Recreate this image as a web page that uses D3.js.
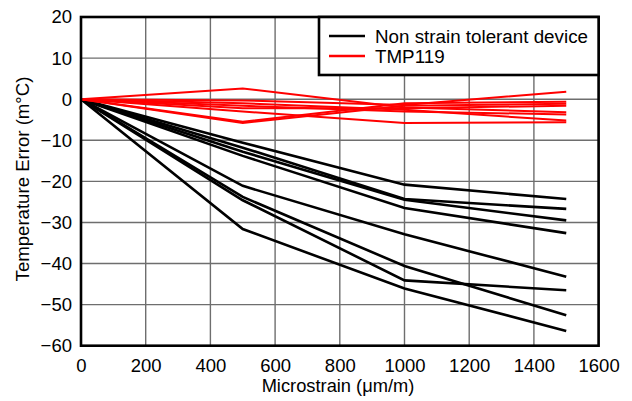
<!DOCTYPE html>
<html>
<head>
<meta charset="utf-8">
<script src="https://cdn.jsdelivr.net/npm/d3@7"></script>
<style>
  body { margin: 0; background: #fff; }
  text { font-family: "Liberation Sans", Arial, sans-serif; fill: #000; }
</style>
</head>
<body>
<svg id="chart" width="632" height="401"></svg>
<script>
// data
var strain = [0, 500, 1000, 1500];
var xTicks = [0, 200, 400, 600, 800, 1000, 1200, 1400, 1600];
var yTicks = [20, 10, 0, -10, -20, -30, -40, -50, -60];
var seriesNames = ["Non strain tolerant device", "TMP119"];
var seriesColors = ["#000000", "#ff0000"];

var nonTolerant = [
  [0, -10.6, -20.8, -24.3],
  [0, -11.8, -24.3, -26.7],
  [0, -12.8, -24.5, -29.5],
  [0, -13.8, -26.5, -32.6],
  [0, -21.1, -32.9, -43.2],
  [0, -23.8, -40.6, -52.6],
  [0, -24.6, -44.1, -46.5],
  [0, -31.6, -46.1, -56.4]
];
var tmp119 = [
  [0, 2.6, -2.0, -3.2],
  [0, -5.5, -1.0, -0.6],
  [0, -5.8, -1.6, -1.1],
  [0, -3.0, -5.8, -5.6],
  [0, -0.3, -1.4, 1.8],
  [0, -1.0, -2.6, -5.2],
  [0, -1.6, -3.0, -3.7],
  [0, -2.2, -2.2, -1.6]
];

var svg = d3.select("#chart");
var pLeft = 81, pRight = 598.6, pTop = 17, pBottom = 345.7;

var x = d3.scaleLinear().domain([0, 1600]).range([pLeft, pRight]);
var y = d3.scaleLinear().domain([-60, 20]).range([pBottom, pTop]);

// grid
var grid = svg.append("g");
grid.selectAll("line.v").data(xTicks).enter().append("line")
  .attr("x1", d => x(d)).attr("x2", d => x(d))
  .attr("y1", pTop).attr("y2", pBottom)
  .attr("stroke", "#6e6e6e").attr("stroke-width", 1.4);
grid.selectAll("line.h").data(yTicks).enter().append("line")
  .attr("x1", pLeft).attr("x2", pRight)
  .attr("y1", d => y(d)).attr("y2", d => y(d))
  .attr("stroke", "#6e6e6e").attr("stroke-width", 1.4);

// axes (labels only)
var xAxis = svg.append("g")
  .attr("transform", "translate(0," + pBottom + ")")
  .call(d3.axisBottom(x).tickValues(xTicks).tickSize(0).tickPadding(13).tickFormat(d3.format("d")));
var yAxis = svg.append("g")
  .attr("transform", "translate(" + pLeft + ",0)")
  .call(d3.axisLeft(y).tickValues(yTicks).tickSize(0).tickPadding(9).tickFormat(d3.format("d")));
[xAxis, yAxis].forEach(function (a) {
  a.select(".domain").remove();
  a.selectAll("text").style("font-size", "18.5px")
    .style("font-family", "'Liberation Sans', Arial, sans-serif").attr("fill", "#000");
});

// lines
var line = d3.line().x((d, i) => x(strain[i])).y(d => y(d));
svg.append("g").selectAll("path").data(nonTolerant).enter().append("path")
  .attr("d", line).attr("fill", "none")
  .attr("stroke", seriesColors[0]).attr("stroke-width", 2.6);
svg.append("g").selectAll("path").data(tmp119).enter().append("path")
  .attr("d", line).attr("fill", "none")
  .attr("stroke", seriesColors[1]).attr("stroke-width", 2);

// frame
svg.append("rect")
  .attr("x", pLeft).attr("y", pTop)
  .attr("width", pRight - pLeft).attr("height", pBottom - pTop)
  .attr("fill", "none").attr("stroke", "#000").attr("stroke-width", 2.6);

// legend
var lg = svg.append("g");
lg.append("rect")
  .attr("x", 319).attr("y", pTop)
  .attr("width", pRight - 319).attr("height", 58)
  .attr("fill", "#fff").attr("stroke", "#000").attr("stroke-width", 2.6);
seriesNames.forEach(function (name, i) {
  var yy = 36 + i * 20;
  lg.append("line").attr("x1", 329).attr("x2", 365).attr("y1", yy).attr("y2", yy)
    .attr("stroke", seriesColors[i]).attr("stroke-width", 2.4);
  lg.append("text").attr("x", 375).attr("y", yy).attr("dy", "0.35em")
    .style("font-size", "18.8px").text(name);
});

// axis titles
svg.append("text")
  .attr("x", 338).attr("y", 392)
  .attr("text-anchor", "middle").style("font-size", "18.3px")
  .text("Microstrain (\u03bcm/m)");
svg.append("text")
  .attr("transform", "translate(29,179) rotate(-90)")
  .attr("text-anchor", "middle").style("font-size", "18.6px")
  .text("Temperature Error (m\u00b0C)");
</script>
</body>
</html>
